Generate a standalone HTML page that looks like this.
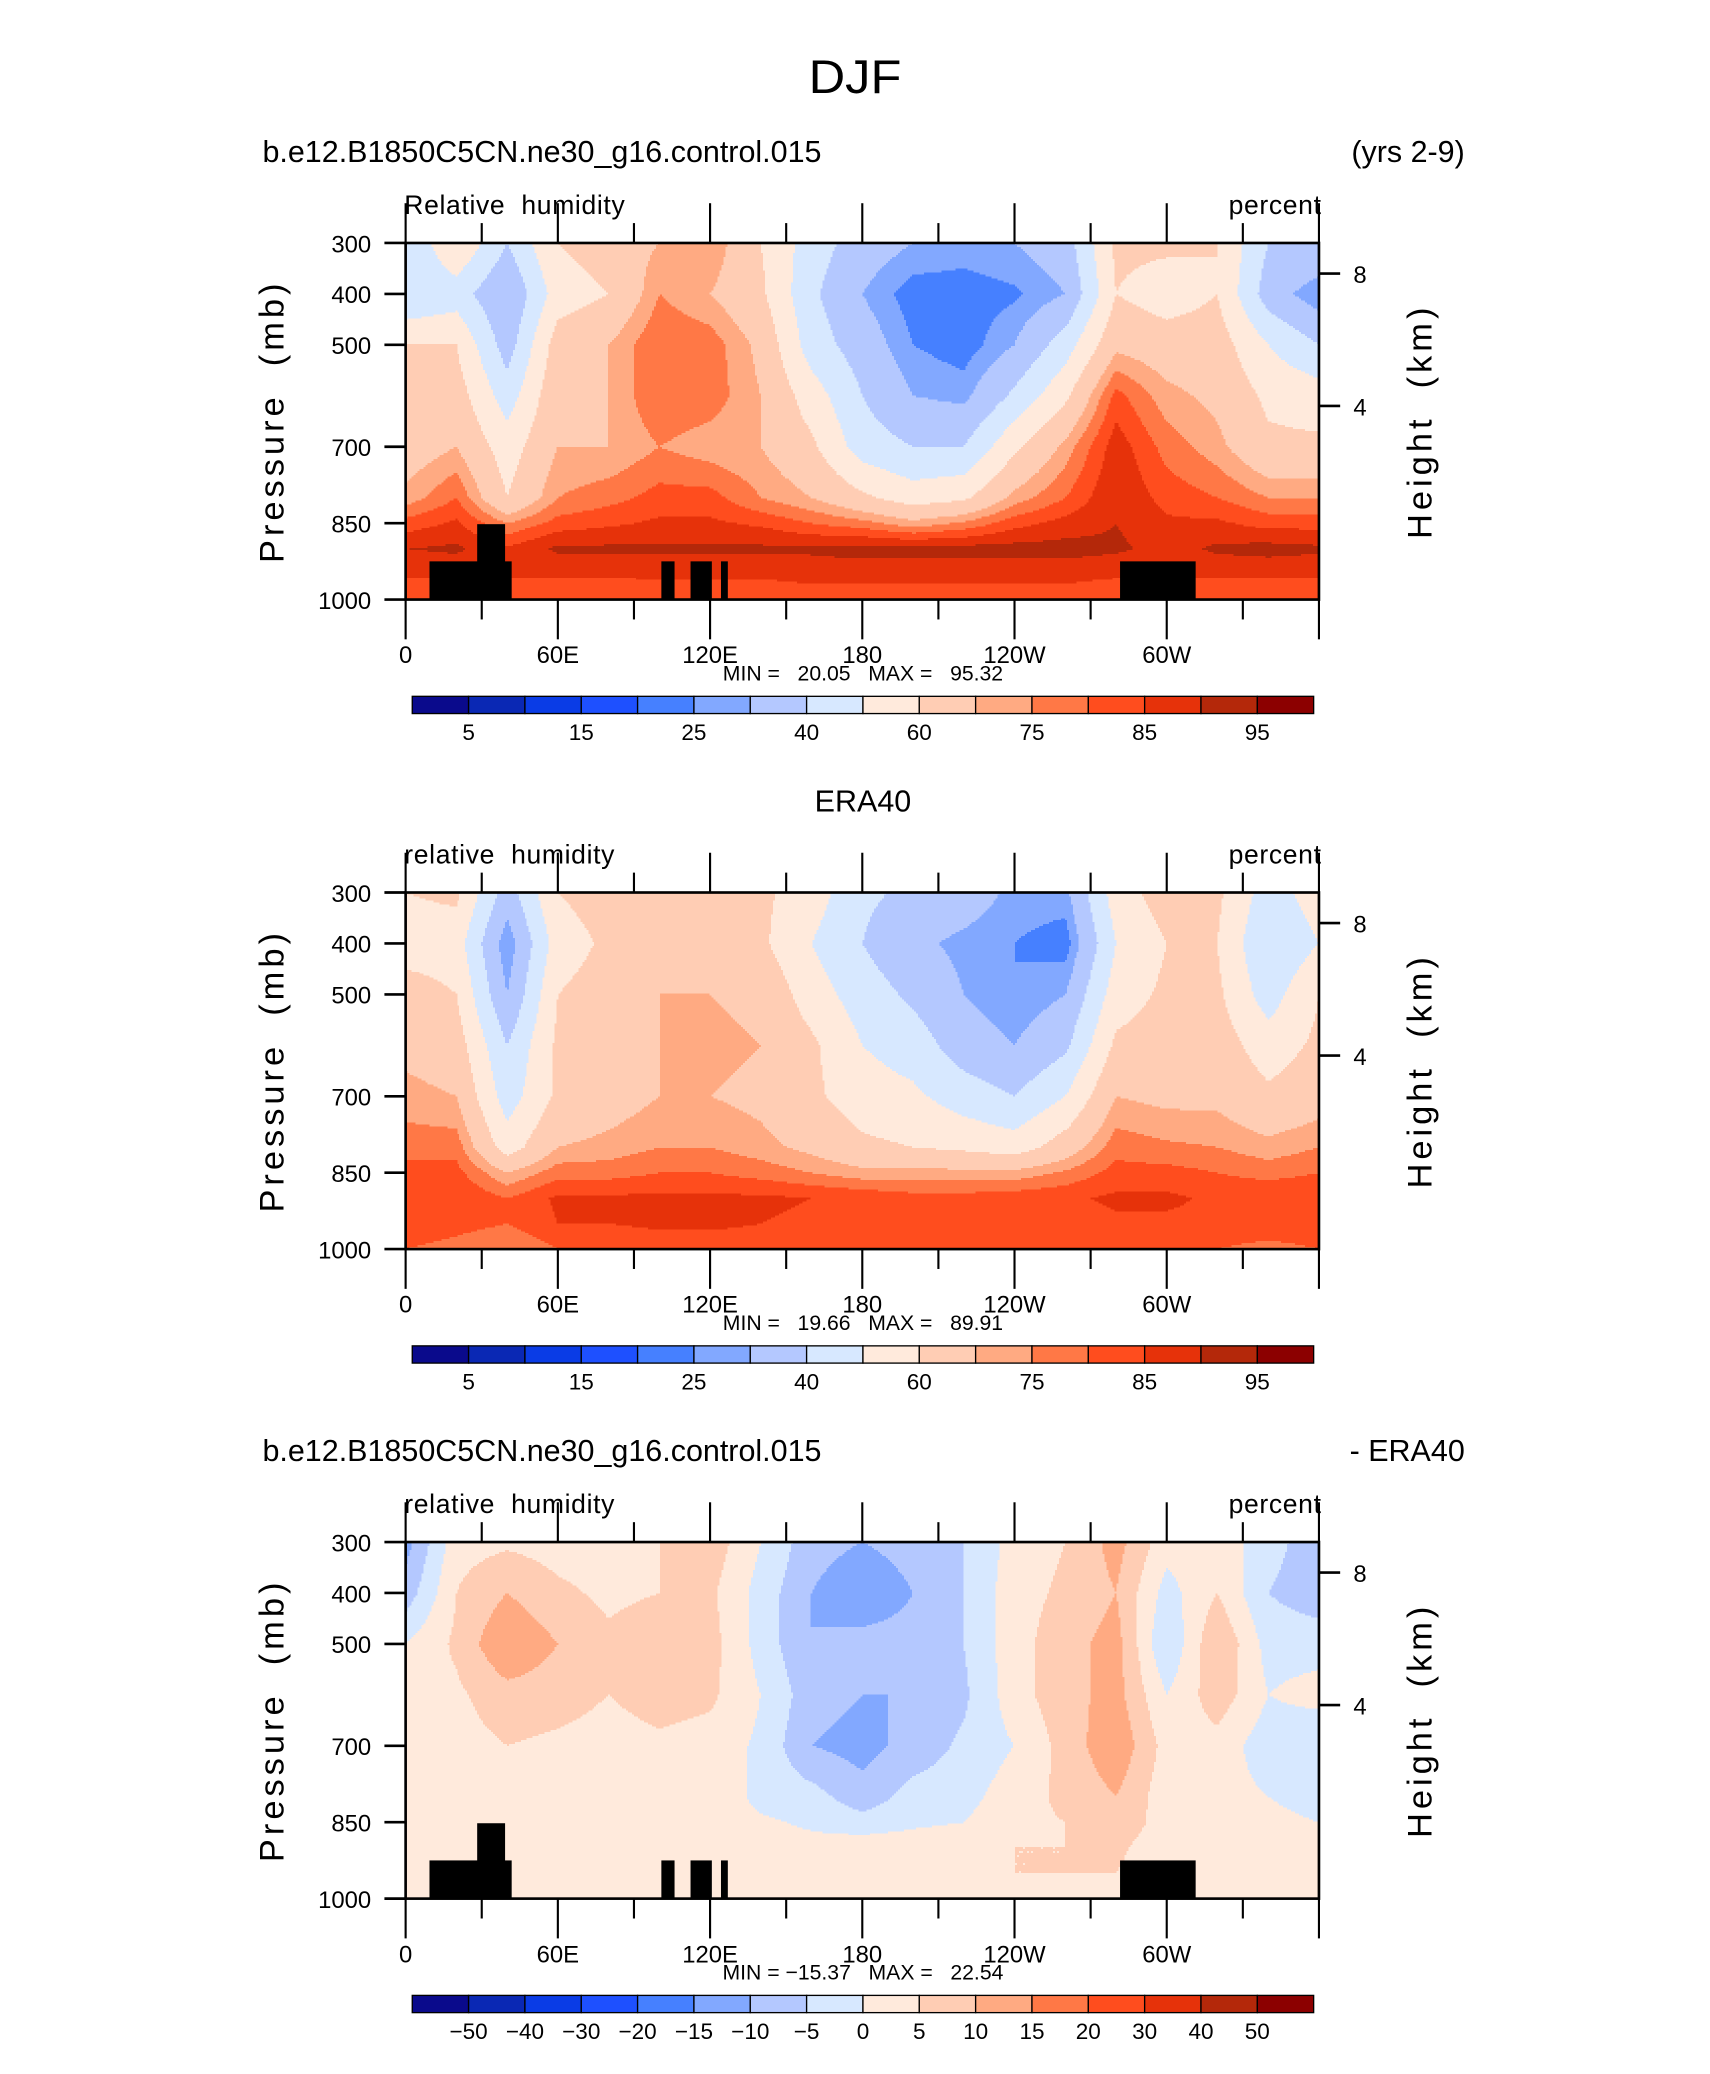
<!DOCTYPE html>
<html><head><meta charset="utf-8"><style>
html,body{margin:0;padding:0;background:#fff}
svg{display:block}
text{font-family:"Liberation Sans",sans-serif;fill:#000;white-space:pre}
</style></head><body>
<svg id="fig" xmlns="http://www.w3.org/2000/svg" width="1710" height="2074" viewBox="0 0 1290 1564">
<rect width="1290" height="1564" fill="#fff"/>
<text x="645" y="70" font-size="36" text-anchor="middle" textLength="70" lengthAdjust="spacingAndGlyphs">DJF</text>
</svg>
<script>
const lons=[0,20,40,60,80,100,120,140,160,180,200,220,240,260,280,300,320,340,360];
const plevs=[300,400,500,600,700,800,850,900,950,1000];
const rh1=[
[40,40,60,65,65,72,82,90,86,80],
[60,45,60,65,70,80,86,91,86,80],
[40,30,35,45,55,60,75,86,86,80],
[60,55,65,68,70,75,82,91,86,80],
[65,60,70,70,70,78,84,91,86,80],
[70,75,80,80,75,82,86,91,86,81],
[75,70,78,78,72,82,86,91,86,81],
[60,62,68,70,70,75,84,91,86,81],
[45,42,45,55,62,70,80,91,87,82],
[35,30,35,40,45,62,77,92,87,82],
[30,22,25,30,40,55,72,92,87,82],
[28,22,22,28,40,58,76,92,87,82],
[30,24,30,42,58,72,83,92,87,82],
[35,30,45,58,72,80,87,92,87,82],
[62,60,68,82,88,90,90,91,86,80],
[62,55,65,72,78,83,86,88,86,80],
[60,60,65,68,72,80,86,91,86,80],
[40,35,50,58,62,75,83,92,86,80],
[40,25,40,55,62,75,83,91,86,80]];
const rh2=[
[60,55,65,68,72,78,82,85,84,80],
[62,55,60,65,70,78,82,85,82,78],
[35,25,30,40,45,55,70,80,80,75],
[60,55,60,62,62,70,78,86,85,80],
[65,62,65,65,66,72,78,86,85,80],
[65,65,70,70,70,75,80,86,86,82],
[65,65,70,72,70,75,80,86,86,82],
[62,62,68,70,68,72,78,86,85,82],
[55,50,55,62,62,68,75,85,84,82],
[42,40,45,50,55,62,72,84,84,82],
[38,32,38,45,52,60,72,82,82,80],
[35,28,30,35,45,58,72,82,82,80],
[28,25,25,30,40,55,72,83,82,80],
[28,22,30,38,50,65,76,84,82,80],
[55,50,55,62,70,78,82,86,84,80],
[65,60,62,65,68,76,82,86,84,80],
[62,60,62,65,68,75,80,84,84,80],
[45,40,45,55,62,72,78,85,84,78],
[55,50,60,62,66,75,80,85,84,80]];
const diff=[
[-12,-8,0,3,5,3,2,3,3,2],
[3,5,6,4,3,2,3,3,3,2],
[4,10,15,8,5,3,2,3,3,2],
[3,6,10,7,4,2,2,3,3,2],
[3,4,6,5,3,2,2,3,2,2],
[5,5,8,7,4,2,1,2,2,2],
[8,6,7,6,3,5,3,2,2,2],
[0,-2,-2,0,-1,-2,1,2,3,2],
[-8,-10,-10,-8,-10,-3,-1,2,3,2],
[-10,-14,-8,-10,-12,-8,-3,3,5,3],
[-8,-10,-8,-10,-8,-3,-1,3,5,3],
[-5,-5,-5,-6,-4,-2,0,4,5,3],
[2,3,3,3,0,3,4,5,5,3],
[5,6,8,8,7,6,5,5,5,3],
[12,10,12,12,14,10,8,6,5,3],
[2,-2,-5,0,3,2,3,2,2,2],
[3,5,10,8,3,2,2,2,2,2],
[-3,-5,-2,0,-3,0,2,2,2,2],
[-8,-8,-2,2,-5,-3,0,2,3,2]];
const topoLon0=[9.4,28.2,100.8,112.3,124.3,281.6];
const topoLon1=[41.8,39.2,106,120.7,127,311.4];
const topoTop=[925,852,925,925,925,925];
const rhLevels=[5,10,15,20,25,30,40,50,60,70,75,80,85,90,95];
const rhLabels=["5","15","25","40","60","75","85","95"];
const diffLevels=[-50,-40,-30,-20,-15,-10,-5,0,5,10,15,20,30,40,50];
const diffLabels=["−50","−40","−30","−20","−15","−10","−5","0","5","10","15","20","30","40","50"];
const colors=["#0a0a8c","#0a28b4","#0a3ce6","#1e50ff","#4680ff","#82a8ff","#b4c8ff","#d7e8ff","#ffeadc","#ffcdb4","#ffaa82","#ff7846","#ff4d1e","#e6320a","#b4280a","#8c0000"];
const xTickLabels=["0","60E","120E","180","120W","60W"];
const pTicks=[300,400,500,700,850,1000];
const hTicks=[8,4];
const hTickP=[360,620];

const NS="http://www.w3.org/2000/svg";
const svg=document.getElementById('fig');
const X0=306,X1=995;
function mk(tag,attrs,parent){const e=document.createElementNS(NS,tag);for(const k in attrs)e.setAttribute(k,attrs[k]);(parent||svg).appendChild(e);return e;}
function colorIdx(v,levels){let i=0;while(i<levels.length&&v>=levels[i])i++;return i;}
function interp(field,lon,p){
  let i=Math.max(0,Math.min(lons.length-2,Math.floor(lon/20)));let fx=(lon-lons[i])/20;
  let j=0;while(j<plevs.length-2&&p>plevs[j+1])j++;let fy=(p-plevs[j])/(plevs[j+1]-plevs[j]);
  fy=Math.max(0,Math.min(1,fy));fx=Math.max(0,Math.min(1,fx));
  const a=field[i][j],b=field[i+1][j],c=field[i][j+1],d=field[i+1][j+1];
  return a*(1-fx)*(1-fy)+b*fx*(1-fy)+c*(1-fx)*fy+d*fx*fy;
}
function panel(dy,field,levels,labels,opts){
  const Y0=183+dy,Y1=452+dy;
  const xs=l=>X0+(X1-X0)*l/360;
  const ys=p=>Y0+(Y1-Y0)*(p-300)/700;
  const g=mk('g',{});
  
  
  const fg=mk('g',{'shape-rendering':'crispEdges'},g);
  
  
  const NX=460,NY=180;
  const dx=(X1-X0)/NX,dyy=(Y1-Y0)/NY;
  for(let r=0;r<NY;r++){
    const y=Y0+r*dyy;
    const p=300+(r+0.5)/NY*700;
    let runStart=0,runC=null;
    for(let k=0;k<=NX;k++){
      let c=-1;
      if(k<NX){const lon=(k+0.5)/NX*360;c=colorIdx(interp(field,lon,p),levels);}
      if(c!==runC){
        if(runC!==null&&runC>=0){mk('rect',{x:X0+runStart*dx,y:y,width:(k-runStart)*dx+0.3,height:dyy+0.3,fill:colors[runC]},fg);}
        runStart=k;runC=c;
      }
    }
  }
  if(opts.topo){
    for(let k=0;k<topoLon0.length;k++){
      const r=mk('rect',{x:xs(topoLon0[k]),y:ys(topoTop[k]),width:xs(topoLon1[k])-xs(topoLon0[k]),height:ys(1000)-ys(topoTop[k]),fill:'#000'},g);
      
      
    }
  }
  const fr=mk('rect',{x:X0,y:Y0,width:X1-X0,height:Y1-Y0,fill:'none',stroke:'#000','stroke-width':2},g);
  
  
  for(let l=0;l<=360;l+=30){
    const major=l%60===0;const len=major?30:15;
    mk('line',{x1:xs(l),x2:xs(l),y1:Y0,y2:Y0-len,stroke:'#000','stroke-width':1.6},g);
    mk('line',{x1:xs(l),x2:xs(l),y1:Y1,y2:Y1+len,stroke:'#000','stroke-width':1.6},g);
  }
  xTickLabels.forEach((t,i)=>{
    const e=mk('text',{x:xs(i*60),y:Y1+48,'font-size':18,'text-anchor':'middle'},g);e.textContent=t;
    
    
  });
  pTicks.forEach(p=>{
    mk('line',{x1:X0,x2:X0-16,y1:ys(p),y2:ys(p),stroke:'#000','stroke-width':2},g);
    const e=mk('text',{x:X0-26,y:ys(p)+7,'font-size':18,'text-anchor':'end'},g);e.textContent=p;
    
    
  });
  hTicks.forEach((h,i)=>{
    const yy=ys(hTickP[i]);
    mk('line',{x1:X1,x2:X1+16,y1:yy,y2:yy,stroke:'#000','stroke-width':2},g);
    const e=mk('text',{x:X1+26,y:yy+7,'font-size':18},g);e.textContent=h;
    
    
  });
  let e=mk('text',{x:0,y:0,'font-size':26,'text-anchor':'middle','letter-spacing':3,transform:`translate(214,${(Y0+Y1)/2}) rotate(-90)`},g);e.textContent='Pressure  (mb)';
  
  
  e=mk('text',{x:0,y:0,'font-size':26,'text-anchor':'middle','letter-spacing':3,transform:`translate(1080,${(Y0+Y1)/2}) rotate(-90)`},g);e.textContent='Height  (km)';
  
  
  e=mk('text',{x:305,y:Y0-22,'font-size':20,'letter-spacing':0.5},g);e.textContent=opts.var;
  
  
  e=mk('text',{x:997,y:Y0-22,'font-size':20,'text-anchor':'end','letter-spacing':0.5},g);e.textContent='percent';
  
  
  e=mk('text',{x:651,y:Y1+61,'font-size':16,'text-anchor':'middle'},g);e.textContent=opts.minmax;
  
  
  if(opts.left){e=mk('text',{x:198,y:Y0-61,'font-size':23},g);e.textContent=opts.left;
    
    }
  if(opts.right){e=mk('text',{x:1105,y:Y0-61,'font-size':23,'text-anchor':'end'},g);e.textContent=opts.right;
    
    }
  if(opts.center){e=mk('text',{x:651,y:Y0-61,'font-size':23,'text-anchor':'middle'},g);e.textContent=opts.center;
    
    }
  const cb=mk('g',{},g);
  
  
  const cx0=311,cx1=991,cy=525+dy,ch=13,bw=(cx1-cx0)/16;
  colors.forEach((c,i)=>{const r=mk('rect',{x:cx0+i*bw,y:cy,width:bw,height:ch,fill:c,stroke:'#000','stroke-width':1},cb);
    
    });
  const every=labels.length===levels.length?1:2;
  labels.forEach((t,i)=>{const k=i*every;const t2=mk('text',{x:cx0+(k+1)*bw,y:cy+33,'font-size':17,'text-anchor':'middle'},cb);t2.textContent=t;
    
    });
}
panel(0,rh1,rhLevels,rhLabels,{name:'model-panel',topo:true,var:'Relative  humidity',minmax:'MIN =   20.05   MAX =   95.32',left:'b.e12.B1850C5CN.ne30_g16.control.015',right:'(yrs 2-9)'});
panel(490,rh2,rhLevels,rhLabels,{name:'era40-panel',topo:false,var:'relative  humidity',minmax:'MIN =   19.66   MAX =   89.91',center:'ERA40'});
panel(980,diff,diffLevels,diffLabels,{name:'difference-panel',topo:true,var:'relative  humidity',minmax:'MIN = −15.37   MAX =   22.54',left:'b.e12.B1850C5CN.ne30_g16.control.015',right:'- ERA40'});
</script>
</body></html>
